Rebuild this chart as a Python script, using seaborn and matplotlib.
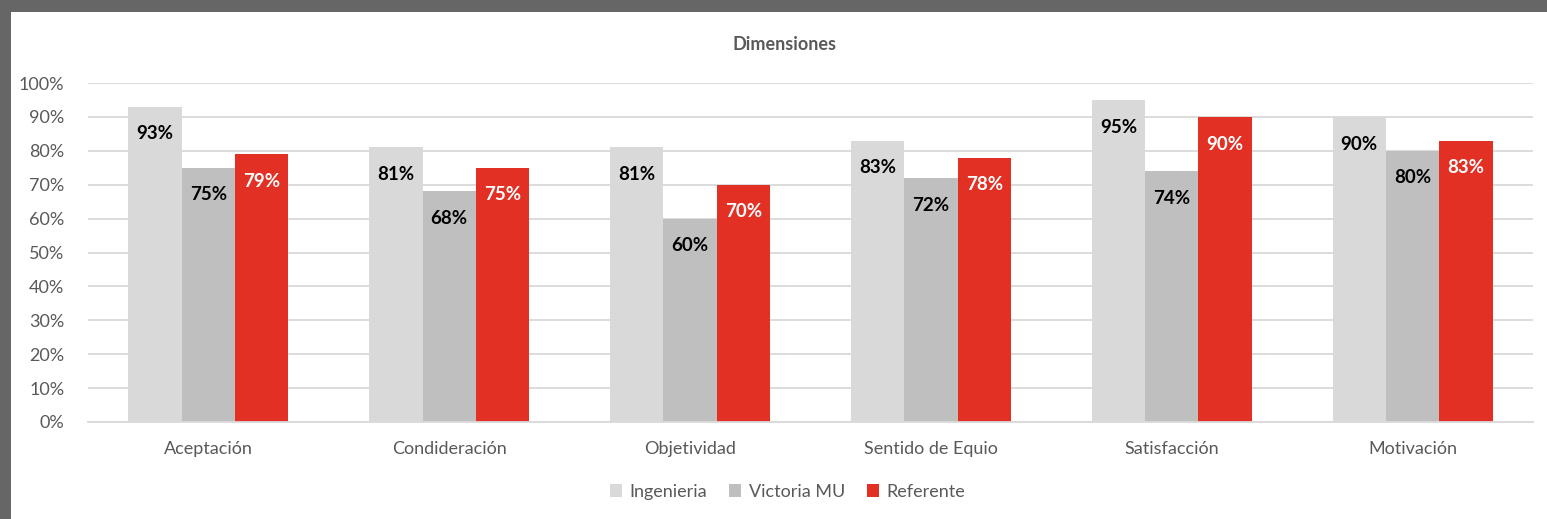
import numpy as np
import pandas as pd
import matplotlib
matplotlib.use('Agg')
import matplotlib.pyplot as plt
import seaborn as sns
from matplotlib.patches import Rectangle, Patch

# data
categorias = ['Aceptación', 'Condideración', 'Objetividad', 'Sentido de Equio', 'Satisfacción', 'Motivación']
series = ['Ingenieria', 'Victoria MU', 'Referente']
ingenieria = [93, 81, 81, 83, 95, 90]
victoria_mu = [75, 68, 60, 72, 74, 80]
referente = [79, 75, 70, 78, 90, 83]
colores = ['#D9D9D9', '#BFBFBF', '#E33024']
colores_txt = ['black', 'black', 'white']

df = pd.DataFrame({
    'Dimension': categorias * 3,
    'Serie': np.repeat(series, len(categorias)),
    'Valor': ingenieria + victoria_mu + referente,
})

sns.set_style('white')
plt.rcParams['font.family'] = ['Lato', 'DejaVu Sans']

fig = plt.figure(figsize=(15.47, 5.19), dpi=100)
ax = fig.add_axes([88/1547, 1-422/519, (1533-88)/1547, (422-83)/519])

sns.barplot(data=df, x='Dimension', y='Valor', hue='Serie', palette=colores,
            saturation=1, width=0.665, gap=0, legend=False, ax=ax, errorbar=None,
            linewidth=0, edgecolor='none')

# etiquetas dentro del extremo de cada barra
for cont, c in zip(ax.containers, colores_txt):
    for bar in cont:
        h = bar.get_height()
        ax.text(bar.get_x() + bar.get_width()/2, h - 8.0, '{:.0f}%'.format(h),
                ha='center', va='center', color=c, fontsize=13.5, fontweight='bold')

ax.set_ylim(0, 100)
ax.set_xlim(-0.5, 5.5)
ax.set_yticks(range(0, 101, 10))
ax.set_yticklabels(['{}%'.format(v) for v in range(0, 101, 10)])
ax.yaxis.grid(True, color='#D9D9D9', lw=1.3)
ax.set_axisbelow(True)
sns.despine(ax=ax, left=True, top=True, right=True)
ax.spines['bottom'].set_color('#D9D9D9')
ax.spines['bottom'].set_linewidth(1.3)
ax.tick_params(axis='both', length=0, colors='#595959', labelsize=13)
ax.tick_params(axis='x', pad=14)
ax.tick_params(axis='y', pad=17)
ax.set_xlabel('')
ax.set_ylabel('')

fig.text(0.507, 1-45/519, 'Dimensiones', ha='center', va='center',
         fontsize=13, fontweight='bold', color='#595959')

handles = [Patch(facecolor=c, edgecolor='none', label=s) for s, c in zip(series, colores)]
leg = fig.legend(handles=handles, loc='center', bbox_to_anchor=(0.509, 1-492/519), ncol=3,
                 frameon=False, handlelength=0.7, handleheight=0.7, handletextpad=0.4,
                 columnspacing=1.2, fontsize=13)
for t in leg.get_texts():
    t.set_color('#595959')

# marco gris de la captura
fig.patches.append(Rectangle((0, 1-12/519), 1, 12/519, transform=fig.transFigure,
                             facecolor='#666666', edgecolor='none', zorder=10))
fig.patches.append(Rectangle((0, 0), 11/1547, 1, transform=fig.transFigure,
                             facecolor='#666666', edgecolor='none', zorder=10))

fig.savefig('out.png', dpi=100)
